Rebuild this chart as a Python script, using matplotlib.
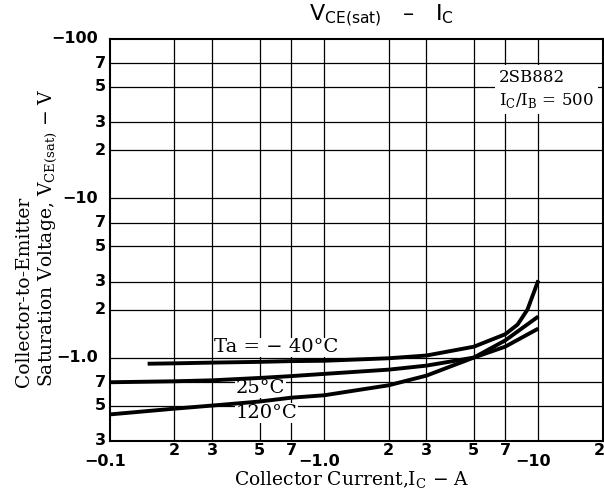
import numpy as np
import matplotlib
matplotlib.use('Agg')
import matplotlib.pyplot as plt
from matplotlib.ticker import NullLocator

# Collector current (A, magnitude) and Vce(sat) (V, magnitude)
ic_m40 = [0.15, 0.2, 0.3, 0.5, 0.7, 1.0, 2.0, 3.0, 5.0, 7.0, 8.0, 8.9, 10.0]
vce_m40 = [0.915, 0.92, 0.93, 0.94, 0.95, 0.955, 0.99, 1.03, 1.17, 1.4, 1.61, 2.0, 3.05]

ic_25 = [0.1, 0.2, 0.3, 0.5, 0.7, 1.0, 2.0, 3.0, 5.0, 7.0, 10.0]
vce_25 = [0.70, 0.71, 0.72, 0.745, 0.765, 0.79, 0.84, 0.89, 1.0, 1.17, 1.52]

ic_120 = [0.1, 0.2, 0.3, 0.5, 0.7, 1.0, 2.0, 3.0, 5.0, 7.0, 10.0]
vce_120 = [0.44, 0.478, 0.50, 0.53, 0.56, 0.58, 0.67, 0.77, 1.0, 1.28, 1.81]

x_grid = [0.2, 0.3, 0.5, 0.7, 1, 2, 3, 5, 7, 10]
y_grid = [0.5, 0.7, 1, 2, 3, 5, 7, 10, 20, 30, 50, 70]

x_minor_ticks = [0.2, 0.3, 0.5, 0.7, 2, 3, 5, 7, 19.3]
x_minor_labels = ['2', '3', '5', '7', '2', '3', '5', '7', '2']
x_major_ticks = [0.1, 1, 10]
x_major_labels = ['\u22120.1', '\u22121.0', '\u221210']

y_minor_ticks = [0.3, 0.5, 0.7, 2, 3, 5, 7, 20, 30, 50, 70]
y_minor_labels = ['3', '5', '7', '2', '3', '5', '7', '2', '3', '5', '7']
y_major_ticks = [1, 10, 100]
y_major_labels = ['\u22121.0', '\u221210', '\u2212100']

tick_font = dict(family=['DejaVu Sans'], weight='bold', size=11.5)
serif = ['DejaVu Serif']

fig = plt.figure(figsize=(6.04, 4.91), dpi=100)
ax = fig.add_axes([0.182, 0.102, 0.816, 0.819])
ax.set_xscale('log')
ax.set_yscale('log')
ax.set_xlim(0.1, 20)
ax.set_ylim(0.3, 100)

for gx in x_grid:
    ax.axvline(gx, color='black', lw=0.9, zorder=1)
for gy in y_grid:
    ax.axhline(gy, color='black', lw=0.9, zorder=1)

for x, y in [(ic_m40, vce_m40), (ic_25, vce_25), (ic_120, vce_120)]:
    ax.plot(x, y, color='black', lw=2.8, solid_capstyle='butt', zorder=3)

for s in ax.spines.values():
    s.set_linewidth(1.5)

ax.xaxis.set_major_locator(NullLocator())
ax.xaxis.set_minor_locator(NullLocator())
ax.yaxis.set_major_locator(NullLocator())
ax.yaxis.set_minor_locator(NullLocator())

tr_x = ax.get_xaxis_transform()
tr_y = ax.get_yaxis_transform()
for t, l in zip(x_minor_ticks, x_minor_labels):
    ax.text(t, -0.006, l, transform=tr_x, ha='center', va='top', **tick_font, clip_on=False)
for t, l in zip(x_major_ticks, x_major_labels):
    ax.text(t * 0.95, -0.033, l, transform=tr_x, ha='center', va='top', **tick_font, clip_on=False)
for t, l in zip(y_minor_ticks, y_minor_labels):
    ax.text(-0.008, t, l, transform=tr_y, ha='right', va='center', **tick_font, clip_on=False)
for t, l in zip(y_major_ticks, y_major_labels):
    ax.text(-0.024, t, l, transform=tr_y, ha='right', va='center', **tick_font, clip_on=False)

wbox = dict(facecolor='white', edgecolor='none', pad=0.5)
ax.text(0.6, 1.16, 'Ta = \u2212 40\u00b0C', family=serif, fontsize=14, ha='center', va='center', bbox=wbox, zorder=2)
ax.text(0.505, 0.645, '25\u00b0C', family=serif, fontsize=14, ha='center', va='center', bbox=wbox, zorder=2)
ax.text(0.54, 0.45, '120\u00b0C', family=serif, fontsize=14, ha='center', va='center', bbox=wbox, zorder=2)

ax.text(0.789, 0.875, '2SB882\nI$_\\mathregular{C}$/I$_\\mathregular{B}$ = 500', transform=ax.transAxes,
        family=serif, fontsize=12, ha='left', va='center', linespacing=1.35,
        bbox=dict(facecolor='white', edgecolor='none', pad=3), zorder=2)

fig.text(0.632, 0.968, 'V$_\\mathregular{CE(sat)}$   \u2013   I$_\\mathregular{C}$',
         family=['DejaVu Sans'], fontsize=16, ha='center', va='center')

fig.text(0.583, 0.021, 'Collector Current,I$_\\mathregular{C}$ \u2212 A', family=serif, fontsize=13.5,
         ha='center', va='center')
fig.text(0.040, 0.212, 'Collector-to-Emitter', family=serif, fontsize=13.5, rotation=90,
         ha='center', va='bottom')
fig.text(0.080, 0.212, 'Saturation Voltage, V$_\\mathregular{CE(sat)}$ \u2212 V', family=serif, fontsize=13.5,
         rotation=90, ha='center', va='bottom')

fig.savefig('out.png', dpi=100)
